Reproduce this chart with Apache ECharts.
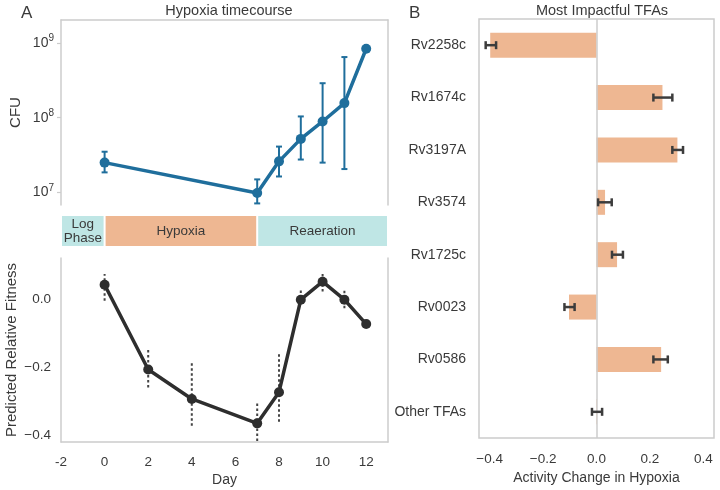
<!DOCTYPE html>
<html><head><meta charset="utf-8">
<script src="https://cdn.jsdelivr.net/npm/echarts@6/dist/echarts.min.js"></script>
<style>html,body{margin:0;padding:0;background:#fff}#c{width:720px;height:490px}</style>
</head><body><div id="c"></div>
<script>
// ---- data ----
const cfuDays = [0, 7, 8, 9, 10, 11, 12];
const cfu = [2.5e7, 9.8e6, 2.6e7, 5.2e7, 8.9e7, 1.57e8, 8.4e8];
const cfuLow = [1.85e7, 7.1e6, 1.63e7, 2.75e7, 2.5e7, 2.05e7, null];
const cfuHigh = [3.5e7, 1.49e7, 4.1e7, 1.04e8, 2.9e8, 6.5e8, null];
const cfuTicks = [1e7, 1e8, 1e9];

const fitDays = [0, 2, 4, 7, 8, 9, 10, 11, 12];
const fitness = [0.044, -0.206, -0.293, -0.365, -0.273, 0.0, 0.053, 0.0, -0.072];
const fitLow = [-0.003, -0.259, -0.372, -0.417, -0.36, -0.01, 0.024, -0.025, null];
const fitHigh = [0.076, -0.142, -0.181, -0.303, -0.161, 0.029, 0.082, 0.027, null];
const fitTicks = [-0.4, -0.2, 0.0];
const dayTicks = [-2, 0, 2, 4, 6, 8, 10, 12];

const phaseNames = ['Log\nPhase', 'Hypoxia', 'Reaeration'];
const phaseStart = [-2, 0, 7];
const phaseEnd = [0, 7, 13];

const tfNames = ['Rv2258c', 'Rv1674c', 'Rv3197A', 'Rv3574', 'Rv1725c', 'Rv0023', 'Rv0586', 'Other TFAs'];
const tfChange = [-0.398, 0.247, 0.303, 0.032, 0.077, -0.103, 0.242, 0.002];
const tfLow = [-0.415, 0.213, 0.284, 0.006, 0.058, -0.12, 0.213, -0.017];
const tfHigh = [-0.376, 0.284, 0.324, 0.057, 0.099, -0.082, 0.267, 0.021];
const tfTicks = [-0.4, -0.2, 0.0, 0.2, 0.4];

// ---- styles ----
const FONT = '"Liberation Sans", Arial, sans-serif';
const SPINE = '#cccccc';
const TXT = '#3a3a3a';
const BLUE = '#1f6e9c';
const DARK = '#2e2e2e';
const SALMON = '#eeb792';
const TEAL = '#bfe6e5';
const phaseColors = [TEAL, SALMON, TEAL];

const minus = s => String(s).replace('-', '\u2212');
const spine = {show: true, onZero: false, lineStyle: {color: SPINE, width: 1.5}};

const chart = echarts.init(document.getElementById('c'), null, {renderer: 'canvas'});

function vErr(color, dash, cap) {
  return function (params, api) {
    const lo = api.value(1), hi = api.value(2);
    if (lo == null || hi == null || isNaN(lo) || isNaN(hi)) return null;
    const a = api.coord([api.value(0), lo]);
    const b = api.coord([api.value(0), hi]);
    const st = {stroke: color, lineWidth: 2, lineDash: dash};
    const ch = [{type: 'line', shape: {x1: a[0], y1: a[1], x2: b[0], y2: b[1]}, style: st}];
    if (cap) {
      ch.push({type: 'line', shape: {x1: a[0] - cap, y1: a[1], x2: a[0] + cap, y2: a[1]}, style: {stroke: color, lineWidth: 2}});
      ch.push({type: 'line', shape: {x1: b[0] - cap, y1: b[1], x2: b[0] + cap, y2: b[1]}, style: {stroke: color, lineWidth: 2}});
    }
    return {type: 'group', children: ch};
  };
}

const option = {
  animation: false,
  textStyle: {fontFamily: FONT},
  title: [
    {text: 'Hypoxia timecourse', left: 224, top: -2, textAlign: 'center', textStyle: {fontSize: 14.5, fontWeight: 'normal', color: TXT, fontFamily: FONT}},
    {text: 'Most Impactful TFAs', left: 597, top: -2, textAlign: 'center', textStyle: {fontSize: 14.5, fontWeight: 'normal', color: TXT, fontFamily: FONT}},
    {text: 'A', left: 16, top: 0, textStyle: {fontSize: 17, fontWeight: 'normal', color: TXT, fontFamily: FONT}},
    {text: 'B', left: 404, top: 0, textStyle: {fontSize: 17, fontWeight: 'normal', color: TXT, fontFamily: FONT}}
  ],
  grid: [
    {left: 61, width: 327, top: 20, height: 185},
    {left: 61, width: 327, top: 216, height: 30},
    {left: 61, width: 327, top: 258, height: 184},
    {left: 479, width: 235, top: 19, height: 423, show: true, borderColor: SPINE, borderWidth: 1.5}
  ],
  xAxis: [
    {gridIndex: 0, type: 'value', min: -2, max: 13, position: 'top',
     axisLine: spine, axisTick: {show: false}, axisLabel: {show: false}, splitLine: {show: false}},
    {gridIndex: 1, type: 'value', min: -2, max: 13, show: false, splitLine: {show: false}},
    {gridIndex: 2, type: 'value', min: -2, max: 13, position: 'bottom',
     name: 'Day', nameLocation: 'middle', nameGap: 31, nameTextStyle: {fontSize: 14, color: TXT},
     axisLine: spine, axisTick: {show: false},
     axisLabel: {customValues: dayTicks, fontSize: 13.5, color: TXT, margin: 13, formatter: v => String(v)}, splitLine: {show: false}},
    {gridIndex: 3, type: 'value', min: -0.44, max: 0.44,
     name: 'Activity Change in Hypoxia', nameLocation: 'middle', nameGap: 33, nameTextStyle: {fontSize: 14, color: TXT},
     axisLine: {show: false}, axisTick: {show: false},
     axisLabel: {customValues: tfTicks, fontSize: 13.5, color: TXT, margin: 14, formatter: v => minus(v.toFixed(1))}, splitLine: {show: false}}
  ],
  yAxis: [
    {gridIndex: 0, type: 'log', logBase: 10, min: 6.76e6, max: 2.04e9, position: 'left',
     name: 'CFU', nameLocation: 'middle', nameGap: 38, nameTextStyle: {fontSize: 15, color: TXT},
     axisLine: spine,
     axisTick: {show: true, customValues: cfuTicks, length: 4, lineStyle: {color: SPINE, width: 1.2}},
     axisLabel: {customValues: cfuTicks, margin: 7, color: TXT,
       formatter: v => '{b|10}{s|' + Math.round(Math.log10(v)) + '}',
       rich: {b: {fontSize: 14, color: TXT, fontFamily: FONT}, s: {fontSize: 10, color: TXT, fontFamily: FONT, padding: [0, 0, 9, 0]}}},
     splitLine: {show: false}},
    {gridIndex: 0, type: 'value', min: 0, max: 1, position: 'right',
     axisLine: spine, axisTick: {show: false}, axisLabel: {show: false}, splitLine: {show: false}},
    {gridIndex: 1, type: 'value', min: 0, max: 1, show: false, splitLine: {show: false}},
    {gridIndex: 2, type: 'value', min: -0.42, max: 0.123, position: 'left',
     name: 'Predicted Relative Fitness', nameLocation: 'middle', nameGap: 42, nameTextStyle: {fontSize: 15, color: TXT},
     axisLine: spine, axisTick: {show: false},
     axisLabel: {customValues: fitTicks, fontSize: 13.5, color: TXT, margin: 10, formatter: v => minus(v.toFixed(1))},
     splitLine: {show: false}},
    {gridIndex: 2, type: 'value', min: 0, max: 1, position: 'right',
     axisLine: spine, axisTick: {show: false}, axisLabel: {show: false}, splitLine: {show: false}},
    {gridIndex: 3, type: 'category', data: tfNames, inverse: true,
     axisLine: {show: false}, axisTick: {show: false},
     axisLabel: {fontSize: 14, color: TXT, margin: 13}, splitLine: {show: false}}
  ],
  series: [
    {type: 'custom', xAxisIndex: 0, yAxisIndex: 0, z: 3,
     data: cfuDays.map((d, i) => [d, cfuLow[i], cfuHigh[i]]),
     renderItem: vErr(BLUE, null, 3)},
    {type: 'line', xAxisIndex: 0, yAxisIndex: 0, z: 4,
     data: cfuDays.map((d, i) => [d, cfu[i]]),
     symbol: 'circle', symbolSize: 10, lineStyle: {color: BLUE, width: 3.5}, itemStyle: {color: BLUE}},
    {type: 'custom', xAxisIndex: 1, yAxisIndex: 2,
     data: phaseStart.map((s, i) => [s, phaseEnd[i]]),
     renderItem: function (params, api) {
       const p0 = api.coord([api.value(0), 0]);
       const p1 = api.coord([api.value(1), 1]);
       return {type: 'rect',
         shape: {x: p0[0] + 1, y: p1[1], width: p1[0] - p0[0] - 2, height: p0[1] - p1[1]},
         style: {fill: phaseColors[params.dataIndex]},
         textContent: {style: {text: phaseNames[params.dataIndex], fill: TXT, fontSize: 13.5, fontFamily: FONT, align: 'center', lineHeight: 14}},
         textConfig: {position: 'inside'}};
     }},
    {type: 'custom', xAxisIndex: 2, yAxisIndex: 3, z: 3,
     data: fitDays.map((d, i) => [d, fitLow[i], fitHigh[i]]),
     renderItem: vErr('#444', [2.5, 2.5], 0)},
    {type: 'line', xAxisIndex: 2, yAxisIndex: 3, z: 4,
     data: fitDays.map((d, i) => [d, fitness[i]]),
     symbol: 'circle', symbolSize: 10, lineStyle: {color: DARK, width: 3.5}, itemStyle: {color: DARK}},
    {type: 'bar', xAxisIndex: 3, yAxisIndex: 5, data: tfChange, barWidth: 25,
     itemStyle: {color: SALMON},
     markLine: {silent: true, symbol: 'none', label: {show: false}, lineStyle: {color: SPINE, width: 1.5, type: 'solid'},
       data: [{xAxis: 0}]}},
    {type: 'custom', xAxisIndex: 3, yAxisIndex: 5, z: 5,
     data: tfNames.map((n, i) => [i, tfLow[i], tfHigh[i]]),
     renderItem: function (params, api) {
       const a = api.coord([api.value(1), api.value(0)]);
       const b = api.coord([api.value(2), api.value(0)]);
       const st = {stroke: '#3c3c3c', lineWidth: 2.5};
       return {type: 'group', children: [
         {type: 'line', shape: {x1: a[0], y1: a[1], x2: b[0], y2: b[1]}, style: st},
         {type: 'line', shape: {x1: a[0], y1: a[1] - 4, x2: a[0], y2: a[1] + 4}, style: st},
         {type: 'line', shape: {x1: b[0], y1: b[1] - 4, x2: b[0], y2: b[1] + 4}, style: st}
       ]};
     }}
  ]
};
chart.setOption(option);
</script>
</body></html>
